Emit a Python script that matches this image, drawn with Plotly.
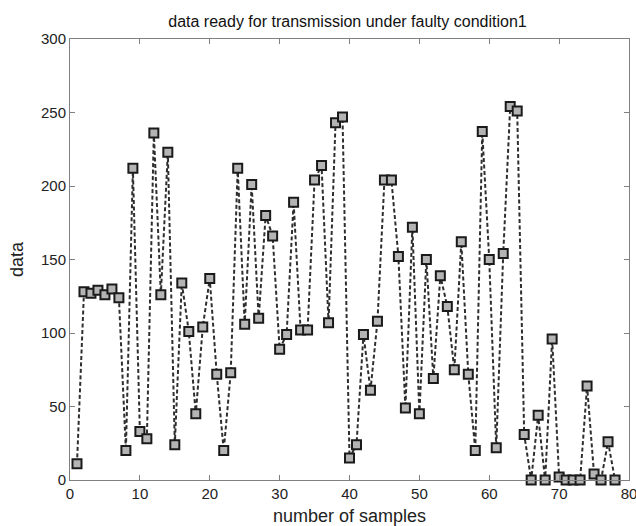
import plotly.graph_objects as go

samples = list(range(1, 79))
data = [11, 128, 127, 129, 126, 130, 124, 20, 212, 33,
        28, 236, 126, 223, 24, 134, 101, 45, 104, 137,
        72, 20, 73, 212, 106, 201, 110, 180, 166, 89,
        99, 189, 102, 102, 204, 214, 107, 243, 247, 15,
        24, 99, 61, 108, 204, 204, 152, 49, 172, 45,
        150, 69, 139, 118, 75, 162, 72, 20, 237, 150,
        22, 154, 254, 251, 31, 0, 44, 0, 96, 2,
        0, 0, 0, 64, 4, 0, 26, 0]

x_ticks = [0, 10, 20, 30, 40, 50, 60, 70, 80]
y_ticks = [0, 50, 100, 150, 200, 250, 300]

font = "Liberation Sans, Arial, sans-serif"

fig = go.Figure()
fig.add_trace(go.Scatter(
    x=samples, y=data, mode="lines+markers",
    line=dict(color="#2e2e2e", width=2, dash="4px,2.5px"),
    marker=dict(symbol="square", size=9, color="#b4b4b4",
                line=dict(color="#1a1a1a", width=2)),
    cliponaxis=False, showlegend=False,
))

axis_common = dict(
    showgrid=False, zeroline=False, showline=True, linecolor="#808080",
    linewidth=1, mirror="ticks", ticks="inside", ticklen=5, tickcolor="#808080",
    tickfont=dict(family=font, size=15, color="#222222"),
    automargin=False, ticklabeloverflow="allow",
)

fig.update_layout(
    width=636, height=526,
    margin=dict(l=70, r=7, t=39, b=46),
    paper_bgcolor="white", plot_bgcolor="white",
    title=dict(text="data ready for transmission under faulty condition1",
               x=347.5 / 636, xanchor="center", y=1 - 21.7 / 526, yanchor="middle",
               font=dict(family=font, size=16, color="#111111")),
    xaxis=dict(range=[0, 80], tickvals=x_ticks, **axis_common,
               title=dict(text="number of samples", standoff=13,
                          font=dict(family=font, size=18, color="#222222"))),
    yaxis=dict(range=[0, 300], tickvals=y_ticks, **axis_common,
               title=dict(text="data", standoff=12,
                          font=dict(family=font, size=18, color="#222222"))),
)

fig.write_html(
    "out.html",
    config={"displayModeBar": False},
    post_script="document.body.style.margin='0';document.body.style.overflow='hidden';",
)
